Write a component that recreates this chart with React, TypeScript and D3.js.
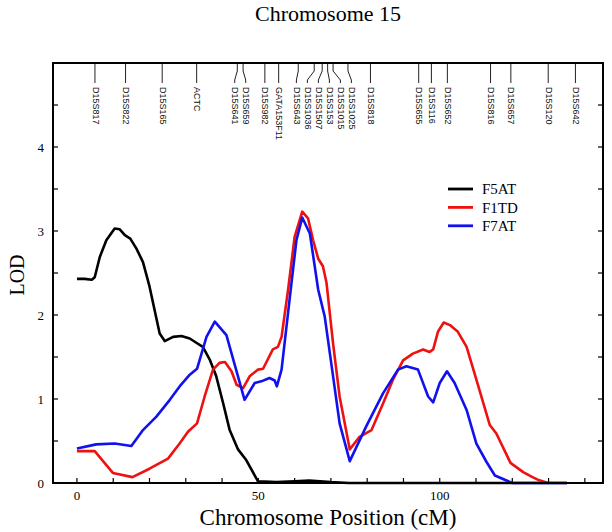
import React from "react";
import * as d3 from "d3";

const f5atPos = [0, 2.1, 4.1, 4.9, 6.3, 8.1, 10.4, 11.8, 13.2, 14.7, 16.4, 18.2, 20.0, 21.4, 22.8, 24.2, 26.5, 28.8, 31.1, 32.9, 34.7, 36.6, 38.4, 40.3, 42.1, 44.4, 46.7, 49.9, 55, 60, 64, 67, 70, 75, 135.1];
const f5atLod = [2.43, 2.43, 2.42, 2.45, 2.69, 2.89, 3.03, 3.02, 2.95, 2.91, 2.79, 2.63, 2.34, 2.06, 1.78, 1.69, 1.74, 1.75, 1.72, 1.67, 1.62, 1.47, 1.27, 0.95, 0.63, 0.4, 0.27, 0.02, 0.01, 0.02, 0.03, 0.02, 0.01, 0, 0];

const f1tdPos = [0, 4.9, 9.9, 15.3, 20.0, 25.1, 28.3, 30.6, 33.1, 35.2, 37.5, 39.3, 40.8, 42.6, 44.0, 45.8, 47.6, 49.9, 51.3, 54.0, 55.4, 56.4, 58.2, 60.0, 62.1, 63.7, 65.1, 66.5, 67.8, 68.8, 70.6, 72.4, 75.2, 77.9, 81.2, 84.4, 87.1, 89.9, 92.6, 95.4, 97.2, 98.2, 99.5, 101.1, 102.8, 105.0, 107.4, 110.1, 113.8, 115.6, 119.5, 123.0, 125.3, 127, 129.9];
const f1tdLod = [0.38, 0.38, 0.12, 0.07, 0.17, 0.29, 0.47, 0.61, 0.71, 1.03, 1.35, 1.43, 1.44, 1.33, 1.17, 1.13, 1.27, 1.35, 1.36, 1.59, 1.62, 1.74, 2.3, 2.93, 3.23, 3.15, 2.89, 2.67, 2.58, 2.38, 1.66, 1.03, 0.4, 0.55, 0.63, 0.95, 1.23, 1.46, 1.54, 1.59, 1.56, 1.59, 1.8, 1.91, 1.88, 1.8, 1.62, 1.23, 0.69, 0.59, 0.24, 0.13, 0.075, 0.04, 0];

const f7atPos = [0, 5.3, 10.4, 15.0, 18.2, 21.9, 25.6, 28.3, 31.1, 33.1, 35.7, 38.0, 41.2, 46.2, 49.0, 50.8, 53.1, 54.5, 55.1, 56.4, 58.6, 60.5, 62.1, 64.2, 66.5, 68.3, 70.6, 72.4, 75.2, 79.8, 84.4, 88.5, 90.8, 94.0, 96.8, 98.2, 100.0, 102.0, 104.1, 107.4, 110.1, 112.9, 115.2, 120, 135.1];
const f7atLod = [0.41, 0.46, 0.47, 0.44, 0.63, 0.79, 0.99, 1.15, 1.29, 1.36, 1.74, 1.92, 1.76, 0.99, 1.19, 1.21, 1.25, 1.22, 1.15, 1.35, 2.18, 2.89, 3.16, 2.97, 2.3, 1.98, 1.27, 0.71, 0.26, 0.68, 1.07, 1.35, 1.39, 1.35, 1.03, 0.96, 1.19, 1.33, 1.19, 0.87, 0.47, 0.25, 0.09, 0, 0];

const markerNames = ["D15S817", "D15S822", "D15S165", "ACTC", "D15S641", "D15S659", "D15S982", "GATA153F11", "D15S643", "D15S1036", "D15S1507", "D15S153", "D15S1015", "D15S1025", "D15S818", "D15S655", "D15S116", "D15S652", "D15S816", "D15S657", "D15S120", "D15S642"];
const markerPos = [4.96, 13.4, 23.5, 33.0, 44.2, 45.8, 51.8, 55.6, 61.0, 65.4, 67.6, 69.1, 70.6, 74.7, 80.9, 94.2, 97.7, 102.1, 114.0, 119.6, 129.9, 137.4];

const seriesNames = ["F5AT", "F1TD", "F7AT"];
const seriesColors = ["#000000", "#ee1111", "#1111ee"];

const xTicks = d3.range(0, 141, 10);
const xLabels = [0, 50, 100];
const yTicks = d3.range(0, 4.51, 0.5);
const yLabels = [0, 1, 2, 3, 4];

const L = 53, R = 603, T = 63, B = 483;
const serif = "'Liberation Serif', 'Times New Roman', serif";
const sans = "'Liberation Sans', Arial, sans-serif";

export default function App() {
  const x = d3.scaleLinear().domain([-6.6, 145]).range([L, R]);
  const y = d3.scaleLinear().domain([0, 5]).range([B, T]);
  const line = d3.line<[number, number]>().x(d => x(d[0])).y(d => y(d[1]));

  const series = [
    f5atPos.map((p, i) => [p, f5atLod[i]] as [number, number]),
    f1tdPos.map((p, i) => [p, f1tdLod[i]] as [number, number]),
    f7atPos.map((p, i) => [p, f7atLod[i]] as [number, number]),
  ];

  // label placement: spread labels apart with minimum gap
  const tops = markerPos.map(p => x(p));
  const lab = tops.slice();
  const gap = 11;
  for (let it = 0; it < 300; it++) {
    for (let i = 1; i < lab.length; i++) {
      const d = lab[i] - lab[i - 1];
      if (d < gap) {
        const s = (gap - d) / 2;
        lab[i] += s;
        lab[i - 1] -= s;
      }
    }
  }

  return (
    <svg width={612} height={532} style={{ position: "absolute", left: 0, top: 0, background: "#fff" }}>
      <text x={328} y={21} textAnchor="middle" fontFamily={serif} fontSize={22}>Chromosome 15</text>

      {/* markers */}
      {markerNames.map((m, i) => {
        const t = tops[i], l = lab[i];
        const straight = Math.abs(t - l) < 0.8;
        const d = straight ? `M${t},${T}V83` : `M${t},${T}V71L${l},80V83`;
        return (
          <g key={m}>
            <path d={d} fill="none" stroke="#222" strokeWidth={1} />
            <text transform={`translate(${l},87) rotate(90)`} fontFamily={sans} fontSize={9} dominantBaseline="middle" fill="#111">{m}</text>
          </g>
        );
      })}

      {/* ticks */}
      {xTicks.map(t => (
        <line key={"xt" + t} x1={x(t)} x2={x(t)} y1={B} y2={B - 5} stroke="#000" strokeWidth={1.2} />
      ))}
      {yTicks.map(t => (
        <g key={"yt" + t}>
          <line x1={L} x2={L + 5} y1={y(t)} y2={y(t)} stroke="#000" strokeWidth={1.2} />
          <line x1={R} x2={R - 5} y1={y(t)} y2={y(t)} stroke="#000" strokeWidth={1.2} />
        </g>
      ))}
      {xLabels.map(t => (
        <text key={"xl" + t} x={x(t)} y={499.5} textAnchor="middle" fontFamily={serif} fontSize={13}>{t}</text>
      ))}
      {yLabels.map(t => (
        <text key={"yl" + t} x={44} y={y(t)} dy="0.35em" textAnchor="end" fontFamily={serif} fontSize={13}>{t}</text>
      ))}

      {/* curves */}
      {series.map((s, i) => (
        <path key={seriesNames[i]} d={line(s) || ""} fill="none" stroke={seriesColors[i]} strokeWidth={2.6} strokeLinejoin="round" />
      ))}

      {/* frame */}
      <rect x={L} y={T} width={R - L} height={B - T} fill="none" stroke="#000" strokeWidth={2} />

      {/* legend */}
      {seriesNames.map((n, i) => (
        <g key={"lg" + n}>
          <line x1={448} x2={473} y1={189 + i * 18.4} y2={189 + i * 18.4} stroke={seriesColors[i]} strokeWidth={2.8} />
          <text x={482} y={189 + i * 18.4} dy="0.35em" fontFamily={serif} fontSize={15}>{n}</text>
        </g>
      ))}

      <text x={328} y={525} textAnchor="middle" fontFamily={serif} fontSize={23}>Chromosome Position (cM)</text>
      <text transform="translate(23.5,275) rotate(-90)" textAnchor="middle" fontFamily={serif} fontSize={20}>LOD</text>
    </svg>
  );
}
